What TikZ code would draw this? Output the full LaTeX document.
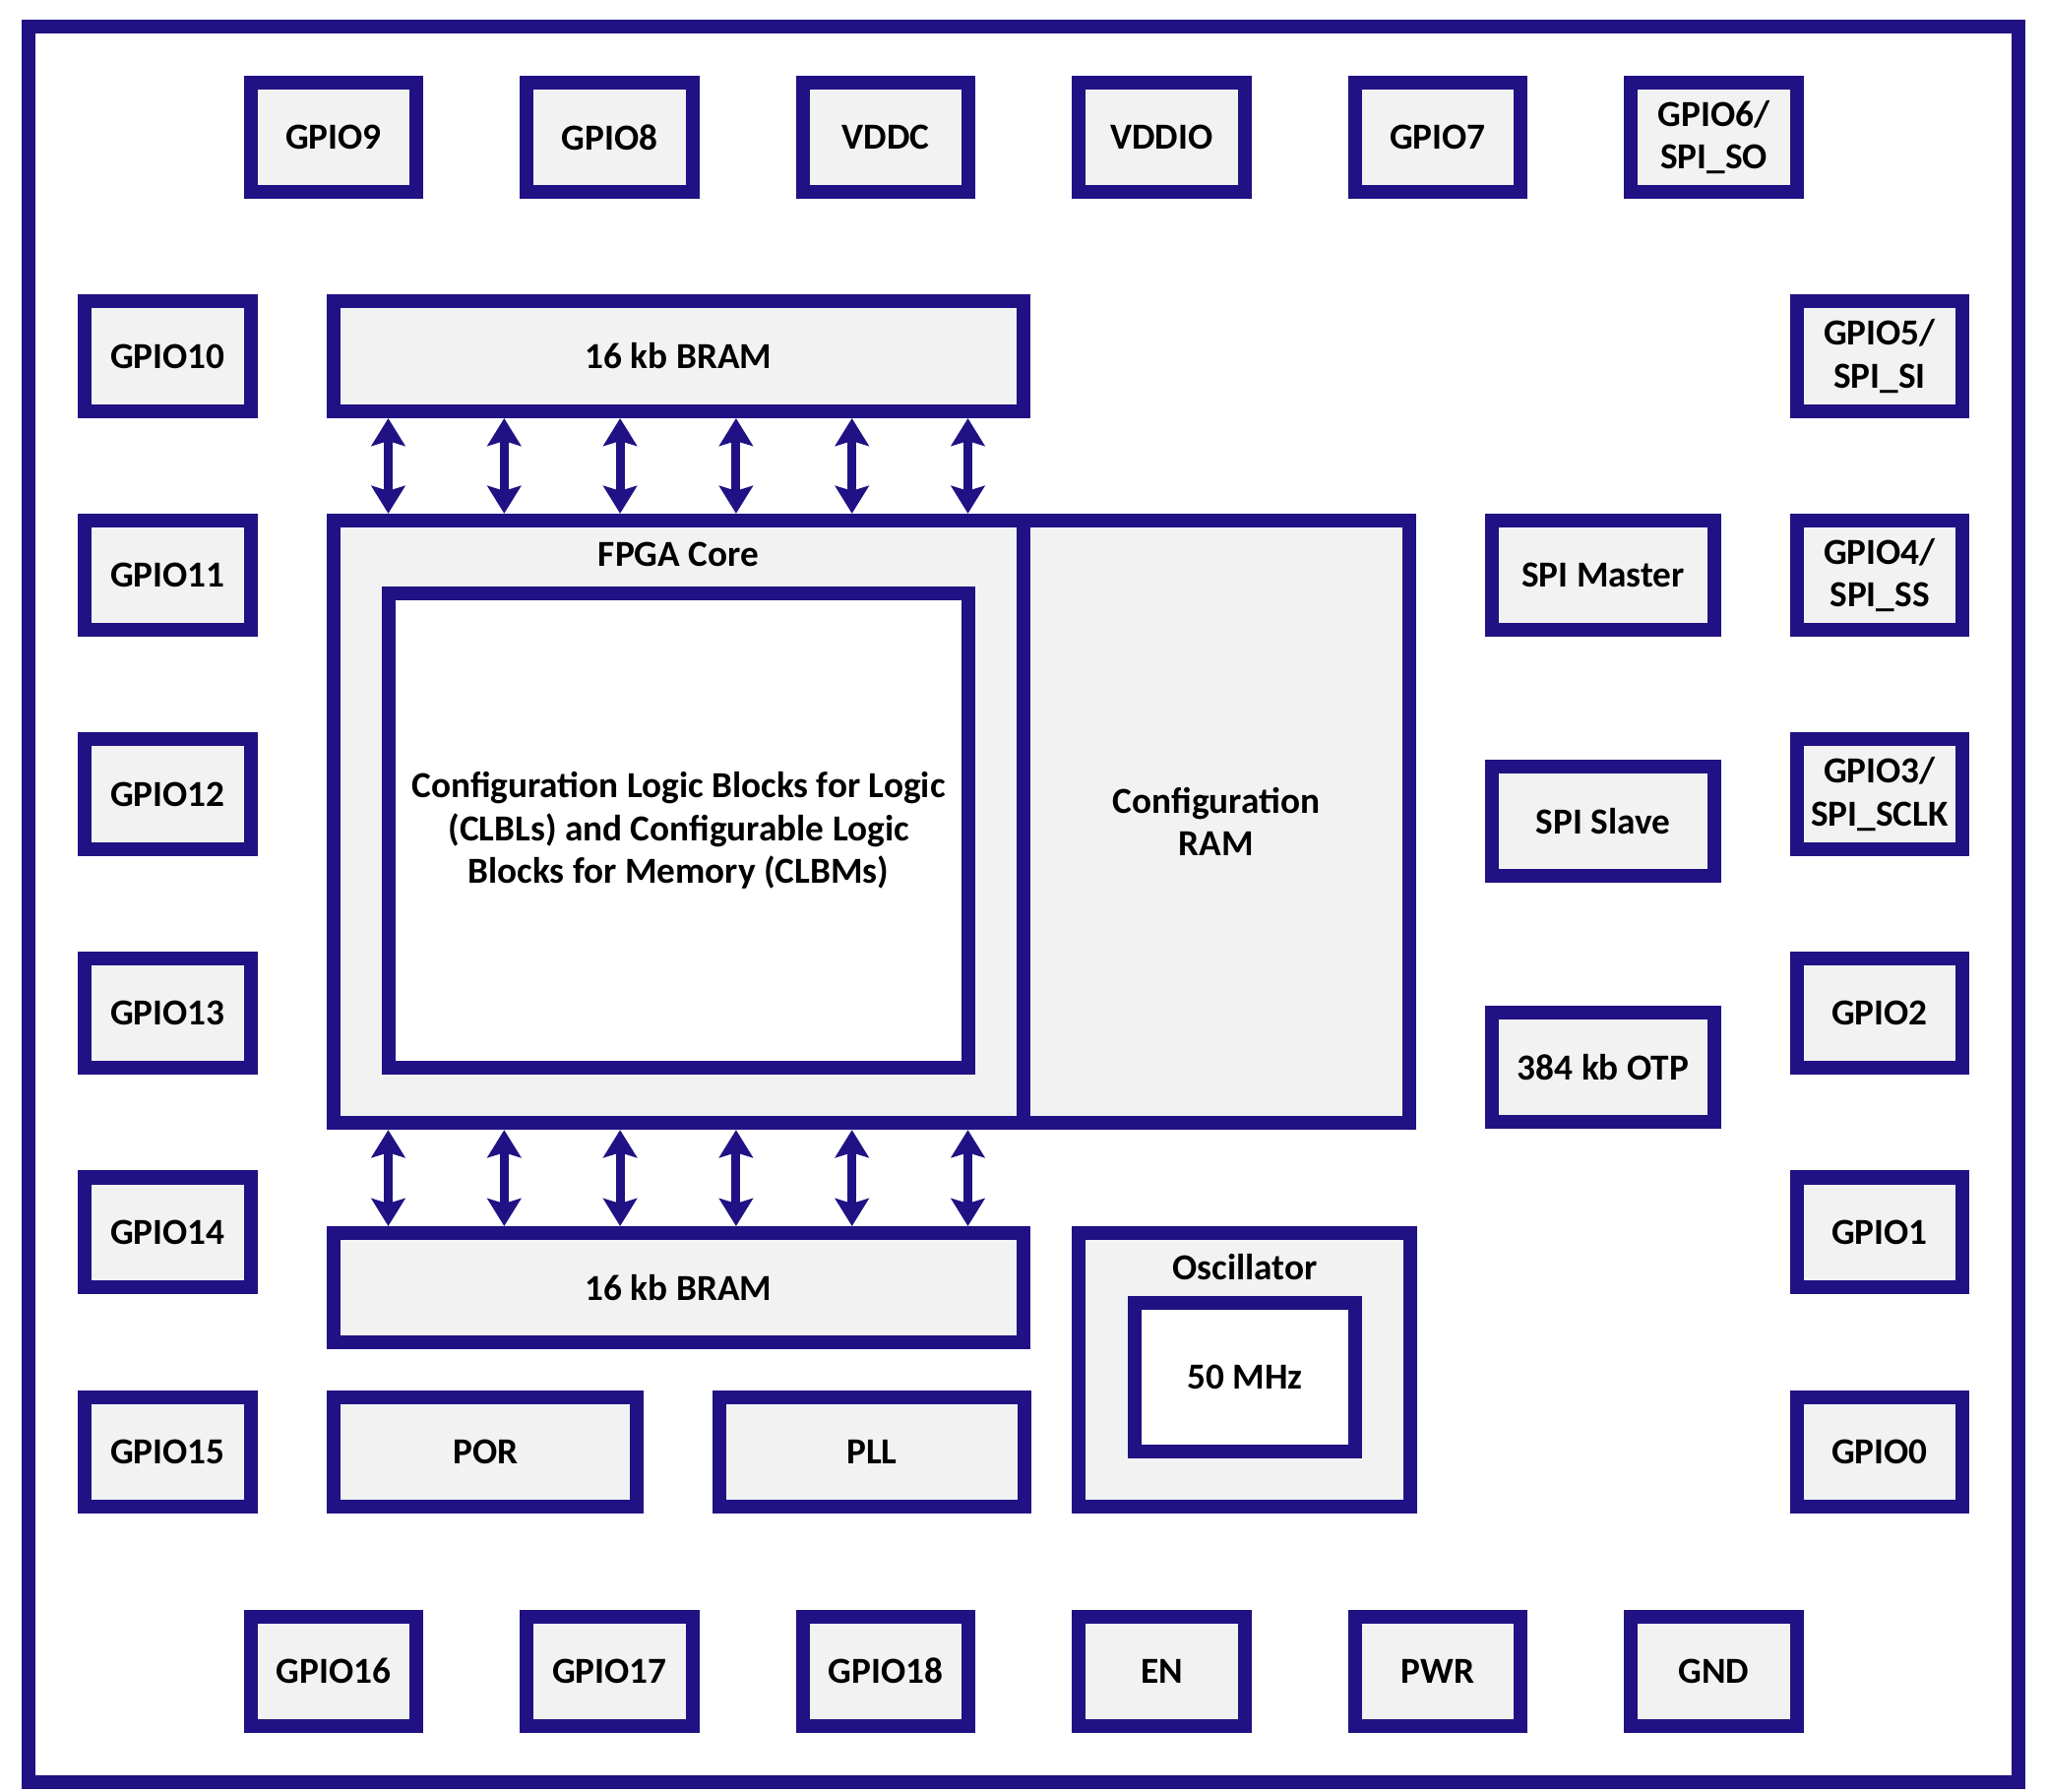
\documentclass[tikz,border=0pt]{standalone}
\usepackage{fontspec}
\setmainfont{Carlito}
\usetikzlibrary{arrows.meta}
\definecolor{navy}{RGB}{32,18,132}
\definecolor{boxfill}{RGB}{242,242,242}
\begin{document}
\begin{tikzpicture}[x=0.01cm, y=-0.01cm,
  every node/.style={font=\fontsize{10.6pt}{12.4pt}\selectfont\bfseries, text=black},
  blk/.style={draw=navy, line width=0.14cm, fill=boxfill, rectangle, inner sep=0pt, align=center},
  pin/.style={blk, minimum width=1.68cm, minimum height=1.11cm},
  inblk/.style={blk, minimum width=2.25cm, minimum height=1.11cm},
  lbl/.style={inner sep=0pt, align=center},
  biarrow/.style={draw=navy, line width=0.09cm,
    {Stealth[width=0.34cm,length=0.28cm,inset=0.05cm]}-{Stealth[width=0.34cm,length=0.28cm,inset=0.05cm]}}
]
\useasboundingbox (0,0) rectangle (2080,1820);
\fill[white] (0,0) rectangle (2080,1820);

% outer frame
\node[draw=navy, line width=0.14cm, fill=white, minimum width=20.2cm, minimum height=17.82cm, inner sep=0pt] (frame) at (1040,919) {};

% top row
\node[pin] (g9)    at (339,139.5)    {GPIO9};
\node[pin] (g8)    at (619.5,139.5)  {GPIO8};
\node[pin] (vddc)  at (900,139.5)    {VDDC};
\node[pin] (vddio) at (1180.5,139.5) {VDDIO};
\node[pin] (g7)    at (1461,139.5)   {GPIO7};
\node[pin] (g6)    at (1741.5,139.5) {GPIO6/\\SPI\_SO};

% bottom row
\node[pin] (g16) at (339,1698)    {GPIO16};
\node[pin] (g17) at (619.5,1698)  {GPIO17};
\node[pin] (g18) at (900,1698)    {GPIO18};
\node[pin] (en)  at (1180.5,1698) {EN};
\node[pin] (pwr) at (1461,1698)   {PWR};
\node[pin] (gnd) at (1741.5,1698) {GND};

% left column
\node[pin] (g10) at (170.5,362)    {GPIO10};
\node[pin] (g11) at (170.5,584.5)  {GPIO11};
\node[pin] (g12) at (170.5,807)    {GPIO12};
\node[pin] (g13) at (170.5,1029.5) {GPIO13};
\node[pin] (g14) at (170.5,1252)   {GPIO14};
\node[pin] (g15) at (170.5,1475.5) {GPIO15};

% right column
\node[pin] (g5) at (1910,362)    {GPIO5/\\SPI\_SI};
\node[pin] (g4) at (1910,584.5)  {GPIO4/\\SPI\_SS};
\node[pin] (g3) at (1910,807)    {GPIO3/\\SPI\_SCLK};
\node[pin] (g2) at (1910,1029.5) {GPIO2};
\node[pin] (g1) at (1910,1252)   {GPIO1};
\node[pin] (g0) at (1910,1475.5) {GPIO0};

% memories and core
\node[blk, minimum width=7.01cm, minimum height=1.12cm] (bram1) at (689.5,362) {16 kb BRAM};
\node[blk, minimum width=7.01cm, minimum height=6.12cm] (fpga) at (689.5,835) {};
\node[lbl] (fpgalbl) at (689.5,563) {FPGA Core};
\node[blk, fill=white, minimum width=5.89cm, minimum height=4.82cm] (clb) at (689.5,844)
  {Configuration Logic Blocks for Logic\\(CLBLs) and Configurable Logic\\Blocks for Memory (CLBMs)};
\node[blk, minimum width=3.92cm, minimum height=6.12cm] (cram) at (1236,835) {Configuration\\RAM};
\node[blk, minimum width=7.01cm, minimum height=1.11cm] (bram2) at (689.5,1308.5) {16 kb BRAM};

% peripherals
\node[inblk] (spim) at (1629,584.5)  {SPI Master};
\node[inblk] (spis) at (1629,834.5)  {SPI Slave};
\node[inblk] (otp)  at (1629,1084.5) {384 kb OTP};
\node[blk, minimum width=3.08cm, minimum height=1.11cm] (por) at (493.3,1475.5) {POR};
\node[blk, minimum width=3.09cm, minimum height=1.11cm] (pll) at (886,1475.5) {PLL};
\node[blk, minimum width=3.37cm, minimum height=2.78cm] (osc) at (1264.5,1392) {};
\node[lbl] (osclbl) at (1265,1288) {Oscillator};
\node[blk, fill=white, minimum width=2.24cm, minimum height=1.51cm] (mhz) at (1265,1399.5) {50 MHz};

% bidirectional buses
\foreach \i/\x in {1/394.5,2/512.3,3/630.1,4/747.9,5/865.7,6/983.5} {
  \coordinate (ax\i) at (\x,0);
  \draw[biarrow] (bram1.south -| ax\i) -- (fpga.north -| ax\i);
  \draw[biarrow] (fpga.south -| ax\i) -- (bram2.north -| ax\i);
}
\end{tikzpicture}
\end{document}
